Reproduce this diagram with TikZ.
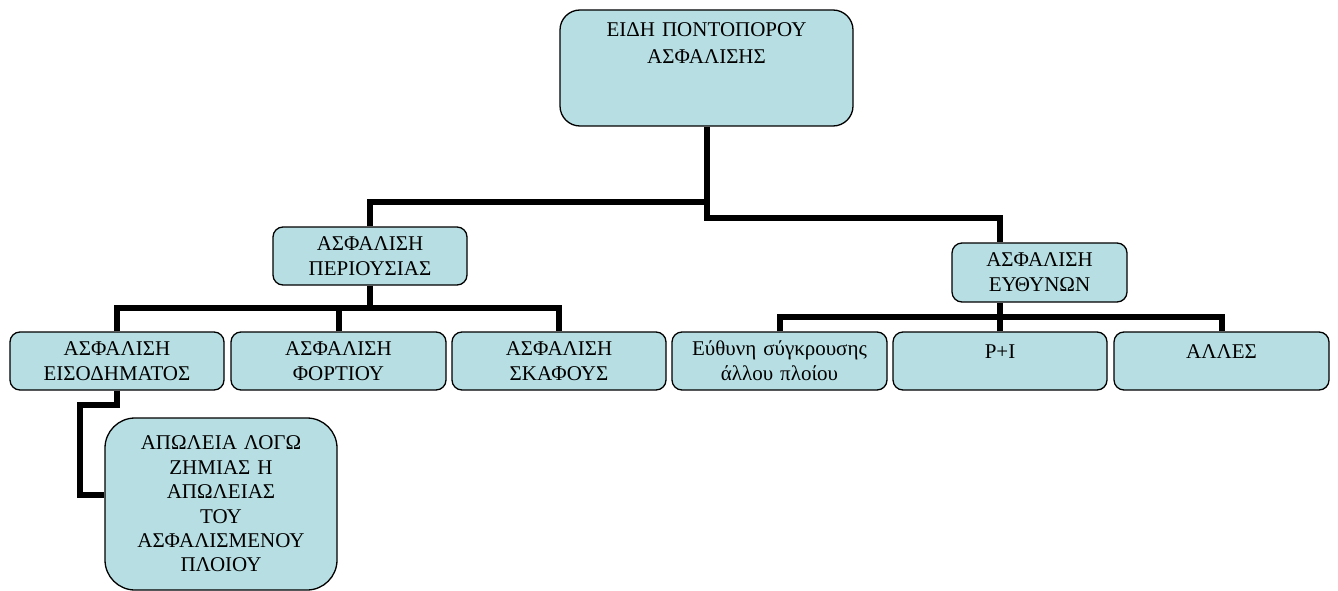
\documentclass[tikz,border=0pt]{standalone}
\usepackage{fontspec}
\setmainfont{Liberation Serif}
\definecolor{boxfill}{HTML}{B7DFE3}
\begin{document}
\begin{tikzpicture}[x=1pt,y=-1pt,
  box/.style={draw=black, line width=1.3pt, fill=boxfill, inner sep=0pt, align=center,
    font=\fontsize{21}{25}\selectfont, rounded corners=10pt},
  conn/.style={line width=6pt, line join=miter}]
\useasboundingbox (0,0) rectangle (1338,591);
% nodes
\node[box, text width=293pt, text height=27pt, text depth=89pt, rounded corners=20pt,
  font=\fontsize{21}{26.7}\selectfont] (top) at (706.5,68) {ΕΙΔΗ ΠΟΝΤΟΠΟΡΟΥ\\ΑΣΦΑΛΙΣΗΣ};
\node[box, text width=194pt, minimum height=58pt] (per) at (370,256) {ΑΣΦΑΛΙΣΗ\\ΠΕΡΙΟΥΣΙΑΣ};
\node[box, text width=175pt, minimum height=59pt] (eyth) at (1039.5,272.5) {ΑΣΦΑΛΙΣΗ\\ΕΥΘΥΝΩΝ};
\node[box, text width=214pt, minimum height=58pt] (r1a) at (117,361) {ΑΣΦΑΛΙΣΗ\\ΕΙΣΟΔΗΜΑΤΟΣ};
\node[box, text width=215pt, minimum height=58pt] (r1b) at (338.5,361) {ΑΣΦΑΛΙΣΗ\\ΦΟΡΤΙΟΥ};
\node[box, text width=214pt, minimum height=58pt] (r1c) at (559,361) {ΑΣΦΑΛΙΣΗ\\ΣΚΑΦΟΥΣ};
\node[box, text width=215pt, minimum height=58pt] (r2a) at (779.5,361) {Εύθυνη σύγκρουσης\\άλλου πλοίου};
\node[box, minimum width=214pt, text height=26pt, text depth=32pt] (r2b) at (1000,361) {P+I};
\node[box, minimum width=215pt, text height=26pt, text depth=32pt] (r2c) at (1221.5,361) {ΑΛΛΕΣ};
\node[box, text width=232pt, minimum height=172pt, rounded corners=30pt,
  font=\fontsize{21}{24.4}\selectfont] (bot) at (221,504)
  {ΑΠΩΛΕΙΑ ΛΟΓΩ\\ΖΗΜΙΑΣ Η\\ΑΠΩΛΕΙΑΣ\\ΤΟΥ\\ΑΣΦΑΛΙΣΜΕΝΟΥ\\ΠΛΟΙΟΥ};
% junction levels
\coordinate (j1) at (0,202);
\coordinate (j2) at (0,218);
\coordinate (b1) at (0,308);
\coordinate (b2) at (0,317);
% connectors
\draw[conn] (top.south) |- (j2 -| r2b.north) -- (r2b.north |- eyth.north);
\draw[conn] (j1 -| top.south) -| (per.north);
\draw[conn] (per.south) -- (per.south |- b1);
\draw[conn] (r1a.north) |- (b1 -| r1c.north) -- (r1c.north);
\draw[conn] (r1b.north) -- (r1b.north |- b1);
\draw[conn] (r2b.north) -- (r2b.north |- eyth.south);
\draw[conn] (r2a.north) |- (b2 -| r2c.north) -- (r2c.north);
\draw[conn] (r1a.south) -- ++(0,14) -| ([xshift=-24pt,yshift=9pt]bot.west) -- ([yshift=9pt]bot.west);
\end{tikzpicture}
\end{document}
